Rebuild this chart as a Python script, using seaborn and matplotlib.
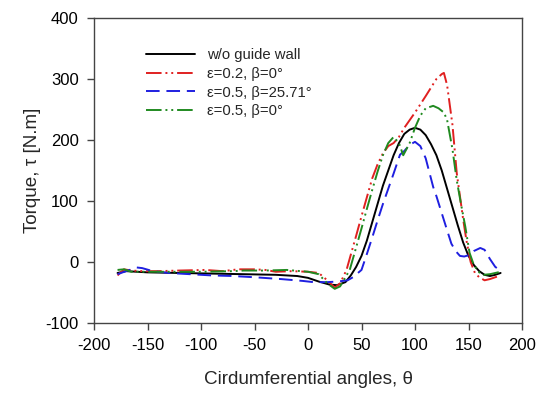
import matplotlib
matplotlib.use("Agg")
import matplotlib.pyplot as plt
import seaborn as sns
import pandas as pd

# ---- data ----
x_wo = [-178, -170, -160, -150, -120, -90, -60, -30, -10, 0, 10, 20, 27, 35, 40, 45, 50, 55, 60, 65,
        70, 75, 80, 85, 90, 95, 100, 105, 110, 115, 120, 125, 130, 135, 140, 145, 150, 155, 160, 165,
        170, 175, 180]
y_wo = [-18, -15, -16, -17, -18, -19, -20, -21, -23, -26, -32, -37, -38, -33, -22, -8, 10, 35, 65, 95,
        125, 150, 175, 195, 210, 217, 220, 217, 208, 193, 175, 150, 120, 90, 60, 32, 10, -5, -15, -21,
        -23, -21, -18]

x_e02 = [-178, -172, -165, -155, -140, -120, -96, -80, -65, -50, -40, -30, -15, 0, 10, 18, 25, 30, 36,
         40, 45, 50, 55, 60, 65, 70, 75, 80, 85, 90, 100, 110, 120, 125, 127, 130, 135, 139, 145, 148,
         152, 156, 160, 165, 170, 175, 180]
y_e02 = [-22, -12, -14, -15, -15, -14, -13, -15, -12, -12, -13, -16, -15, -16, -18, -30, -42, -35, -13,
         12, 43, 75, 106, 137, 160, 178, 190, 195, 205, 220, 245, 272, 300, 308, 310, 290, 225, 146, 70,
         36, 0, -18, -25, -30, -28, -25, -22]

x_e05b = [-178, -170, -160, -155, -145, -130, -110, -90, -70, -50, -25, -5, 5, 18, 28, 37, 42, 50, 55,
          60, 65, 70, 75, 80, 86, 90, 95, 100, 105, 110, 117, 120, 125, 130, 134, 138, 142, 146, 150,
          155, 161, 165, 170, 175, 179]
y_e05b = [-20, -15, -9, -10, -15, -18, -20, -22, -23, -25, -28, -31, -33, -33, -32, -30, -25, -13, 13,
          40, 68, 95, 120, 145, 176, 182, 192, 197, 190, 170, 123, 108, 80, 52, 30, 18, 10, 9, 11,
          18, 23, 20, 5, -8, -13]

x_e05 = [-178, -172, -165, -140, -100, -70, -60, -40, -20, 0, 10, 18, 25, 30, 35, 39, 45, 50, 55, 60,
         65, 70, 75, 80, 85, 89, 95, 100, 105, 110, 117, 122, 127, 130, 135, 139, 143, 147, 151, 155,
         160, 164, 170, 175, 180]
y_e05 = [-13, -12, -16, -16, -16, -15, -14, -14, -13, -16, -20, -35, -44, -40, -25, -13, 24, 55, 87,
         118, 148, 175, 195, 205, 195, 175, 195, 220, 240, 252, 256, 252, 245, 233, 185, 134, 95, 58,
         15, -5, -17, -21, -20, -18, -16]

labels = ["w/o guide wall", "\u03b5=0.2, \u03b2=0\u00b0", "\u03b5=0.5, \u03b2=25.71\u00b0",
          "\u03b5=0.5, \u03b2=0\u00b0"]
x_ticks = [-200, -150, -100, -50, 0, 50, 100, 150, 200]
y_ticks = [-100, 0, 100, 200, 300, 400]

series = [
    (x_wo, y_wo, labels[0], "black", "-"),
    (x_e02, y_e02, labels[1], "#e02020", (0, (8, 2, 1, 2, 1, 2))),
    (x_e05b, y_e05b, labels[2], "#1f1fe0", (0, (7, 3.5))),
    (x_e05, y_e05, labels[3], "#208a20", (0, (8, 2, 1, 2, 1, 2))),
]

sns.set_style("white")
plt.rcParams["font.family"] = ["Liberation Sans", "DejaVu Sans"]
plt.rcParams["axes.unicode_minus"] = False

fig = plt.figure(figsize=(5.43, 3.93), dpi=100)
ax = fig.add_axes([94 / 543, 1 - 323 / 393, 428 / 543, 305 / 393])

for xs, ys, lab, col, ls in series:
    df = pd.DataFrame({"x": xs, "y": ys})
    sns.lineplot(data=df, x="x", y="y", ax=ax, color=col, linestyle=ls, linewidth=1.4,
                 label=lab, sort=False, estimator=None)

ax.set_xlim(-200, 200)
ax.set_ylim(-100, 400)
ax.set_xticks(x_ticks)
ax.set_yticks(y_ticks)
ax.tick_params(axis="both", which="both", direction="out", length=5, width=1,
               colors="#444444", labelcolor="black", labelsize=12, bottom=True, left=True,
               top=False, right=False, pad=6)
for s in ax.spines.values():
    s.set_color("#444444")
    s.set_linewidth(1)

ax.set_xlabel("Cirdumferential angles, \u03b8", fontsize=13.6, labelpad=13)
ax.set_ylabel("Torque, \u03c4 [N.m]", fontsize=13.6, labelpad=3)

leg = ax.legend(loc="upper left", bbox_to_anchor=(0.09, 0.945), frameon=False, fontsize=10.7,
                handlelength=3.3, handletextpad=0.8, labelspacing=0.32)

fig.savefig("out.png", dpi=100)
